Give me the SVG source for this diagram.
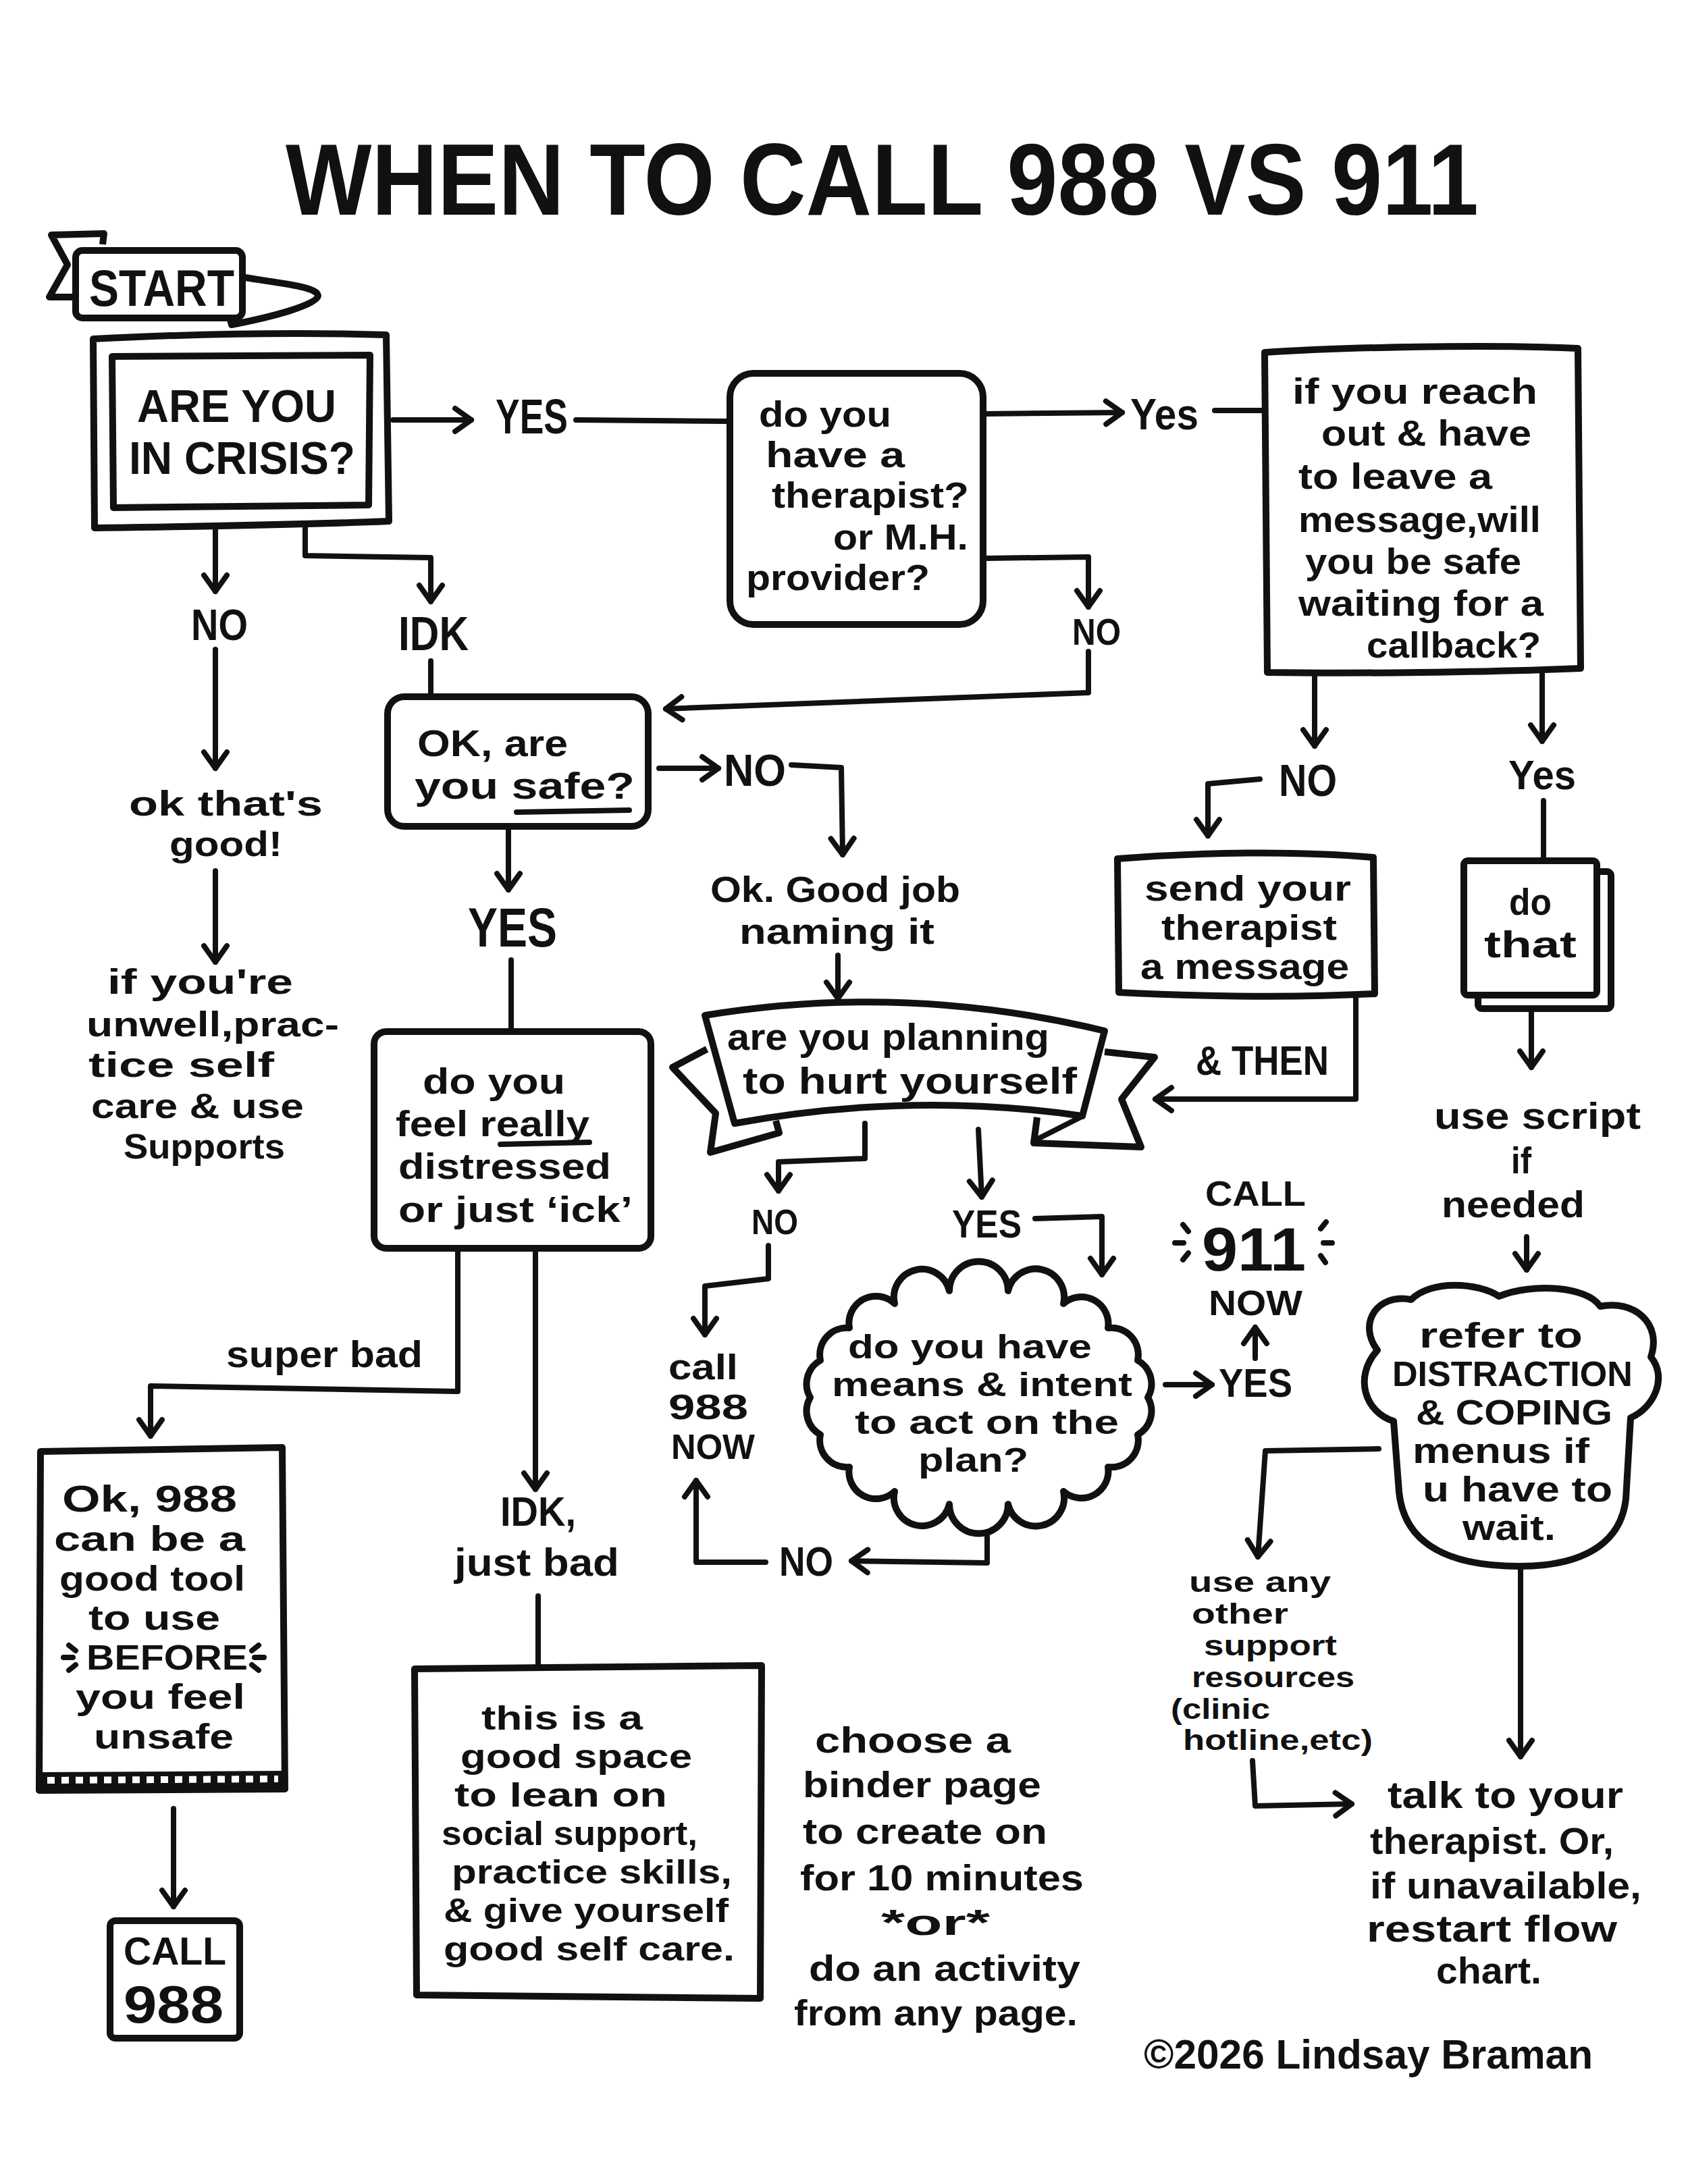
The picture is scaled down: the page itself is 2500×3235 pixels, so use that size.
<svg xmlns="http://www.w3.org/2000/svg" width="2500" height="3235" viewBox="0 0 2500 3235">
<style>
.t{font-family:"Liberation Sans",Arial,sans-serif;font-weight:bold;fill:#111}
.box{fill:#fff;stroke:#111;stroke-width:10;stroke-linejoin:round}
.ln{fill:none;stroke:#111;stroke-width:8;stroke-linecap:round;stroke-linejoin:round}
.a{marker-end:url(#ah)}
</style>
<defs>
<marker id="ah" markerUnits="userSpaceOnUse" markerWidth="44" markerHeight="44" viewBox="0 0 44 44" refX="38" refY="22" orient="auto" overflow="visible">
<path d="M14,5 L38,22 L14,39" fill="none" stroke="#111" stroke-width="8" stroke-linecap="round" stroke-linejoin="round"/>
</marker>
</defs>
<rect width="2500" height="3235" fill="#fff"/>

<text class="t" x="423" y="318" font-size="150" textLength="1767" lengthAdjust="spacingAndGlyphs">WHEN TO CALL 988 VS 911</text>

<g id="connectors">
<path class="ln a" d="M582,622 L698,622"/>
<path class="ln" d="M853,622 L1077,624"/>
<path class="ln a" d="M1459,613 L1662,611"/>
<path class="ln" d="M1799,608 L1871,608"/>
<path class="ln a" d="M1459,827 L1612,825 L1612,899"/>
<path class="ln a" d="M1612,965 L1612,1026 L986,1050"/>
<path class="ln a" d="M319,777 L319,876"/>
<path class="ln a" d="M319,962 L319,1138"/>
<path class="ln a" d="M319,1290 L319,1425"/>
<path class="ln a" d="M452,780 L452,823 L638,826 L638,891"/>
<path class="ln" d="M638,979 L638,1038"/>
<path class="ln a" d="M976,1138 L1064,1138"/>
<path class="ln a" d="M1172,1133 L1246,1137 L1248,1266"/>
<path class="ln a" d="M1241,1415 L1241,1479"/>
<path class="ln a" d="M753,1227 L753,1318"/>
<path class="ln" d="M757,1422 L757,1528"/>
<path class="ln a" d="M678,1852 L678,2061 L223,2053 L223,2127"/>
<path class="ln a" d="M793,1852 L793,2206"/>
<path class="ln" d="M797,2364 L797,2467"/>
<path class="ln a" d="M257,2679 L257,2824"/>
<path class="ln a" d="M1947,998 L1947,1105"/>
<path class="ln a" d="M1866,1154 L1789,1161 L1789,1238"/>
<path class="ln a" d="M2008,1476 L2008,1628 L1711,1628"/>
<path class="ln a" d="M2284,998 L2284,1098"/>
<path class="ln" d="M2286,1186 L2286,1275"/>
<path class="ln a" d="M2268,1474 L2268,1581"/>
<path class="ln a" d="M2261,1832 L2261,1881"/>
<path class="ln a" d="M2042,2146 L1874,2149 L1863,2306"/>
<path class="ln a" d="M1855,2608 L1859,2675 L2002,2672"/>
<path class="ln a" d="M2252,2321 L2252,2602"/>
<path class="ln a" d="M1281,1664 L1281,1716 L1153,1721 L1153,1764"/>
<path class="ln a" d="M1138,1845 L1138,1894 L1044,1905 L1044,1977"/>
<path class="ln a" d="M1449,1673 L1454,1773"/>
<path class="ln a" d="M1533,1805 L1632,1802 L1632,1888"/>
<path class="ln a" d="M1726,2051 L1795,2051"/>
<path class="ln a" d="M1859,2012 L1859,1966"/>
<path class="ln a" d="M1462,2261 L1462,2315 L1261,2312"/>
<path class="ln a" d="M1134,2314 L1031,2314 L1031,2193"/>
</g>

<g id="start">
<path class="box" d="M152,362 L154,346 L76,348 L100,392 L73,440 L112,440"/>
<path class="box" d="M355,410 C420,420 470,425 471,438 C470,452 400,470 343,481 L338,462"/>
<rect class="box" x="112" y="371" width="247" height="100" rx="10"/>
<text class="t" x="132" y="453" font-size="76" textLength="215" lengthAdjust="spacingAndGlyphs">START</text>
</g>

<g id="crisis">
<path class="box" d="M138,502 C300,494 450,492 572,496 L576,772 C430,778 280,780 140,782 Z"/>
<path class="box" d="M166,528 L548,526 L546,748 L168,752 Z"/>
<text class="t" x="203" y="625" font-size="68" textLength="295" lengthAdjust="spacingAndGlyphs">ARE YOU</text>
<text class="t" x="191" y="702" font-size="68" textLength="335" lengthAdjust="spacingAndGlyphs">IN CRISIS?</text>
</g>

<g id="lbl-crisis-yes"><text class="t" x="734" y="642" font-size="72" textLength="107" lengthAdjust="spacingAndGlyphs">YES</text></g>
<g id="lbl-crisis-no"><text class="t" x="283" y="948" font-size="64" textLength="84" lengthAdjust="spacingAndGlyphs">NO</text></g>
<g id="lbl-crisis-idk"><text class="t" x="590" y="963" font-size="70" textLength="104" lengthAdjust="spacingAndGlyphs">IDK</text></g>

<g id="therapist">
<rect class="box" x="1081" y="553" width="375" height="372" rx="35"/>
<text class="t" x="1124" y="632" font-size="53" textLength="196" lengthAdjust="spacingAndGlyphs">do you</text>
<text class="t" x="1134" y="692" font-size="53" textLength="206" lengthAdjust="spacingAndGlyphs">have a</text>
<text class="t" x="1143" y="752" font-size="53" textLength="292" lengthAdjust="spacingAndGlyphs">therapist?</text>
<text class="t" x="1234" y="814" font-size="53" textLength="200" lengthAdjust="spacingAndGlyphs">or M.H.</text>
<text class="t" x="1105" y="874" font-size="53" textLength="272" lengthAdjust="spacingAndGlyphs">provider?</text>
</g>

<g id="lbl-ther-yes"><text class="t" x="1674" y="636" font-size="64" textLength="101" lengthAdjust="spacingAndGlyphs">Yes</text></g>
<g id="lbl-ther-no"><text class="t" x="1588" y="955" font-size="56" textLength="72" lengthAdjust="spacingAndGlyphs">NO</text></g>

<g id="callback">
<path class="box" d="M1873,522 C2000,514 2200,510 2337,516 L2341,990 C2200,996 2000,998 1877,996 Z"/>
<text class="t" x="1914" y="598" font-size="53" textLength="363" lengthAdjust="spacingAndGlyphs">if you reach</text>
<text class="t" x="1957" y="660" font-size="53" textLength="311" lengthAdjust="spacingAndGlyphs">out &amp; have</text>
<text class="t" x="1923" y="724" font-size="53" textLength="287" lengthAdjust="spacingAndGlyphs">to leave a</text>
<text class="t" x="1923" y="788" font-size="53" textLength="359" lengthAdjust="spacingAndGlyphs">message,will</text>
<text class="t" x="1933" y="850" font-size="53" textLength="320" lengthAdjust="spacingAndGlyphs">you be safe</text>
<text class="t" x="1923" y="912" font-size="53" textLength="363" lengthAdjust="spacingAndGlyphs">waiting for a</text>
<text class="t" x="2024" y="974" font-size="53" textLength="258" lengthAdjust="spacingAndGlyphs">callback?</text>
</g>

<g id="oknogood">
<text class="t" x="191" y="1208" font-size="52" textLength="287" lengthAdjust="spacingAndGlyphs">ok that's</text>
<text class="t" x="251" y="1268" font-size="52" textLength="167" lengthAdjust="spacingAndGlyphs">good!</text>
</g>

<g id="unwell">
<text class="t" x="159" y="1472" font-size="52" textLength="275" lengthAdjust="spacingAndGlyphs">if you're</text>
<text class="t" x="128" y="1535" font-size="52" textLength="374" lengthAdjust="spacingAndGlyphs">unwell,prac-</text>
<text class="t" x="131" y="1595" font-size="52" textLength="275" lengthAdjust="spacingAndGlyphs">tice self</text>
<text class="t" x="135" y="1656" font-size="52" textLength="315" lengthAdjust="spacingAndGlyphs">care &amp; use</text>
<text class="t" x="183" y="1716" font-size="52" textLength="239" lengthAdjust="spacingAndGlyphs">Supports</text>
</g>

<g id="safe">
<rect class="box" x="574" y="1032" width="386" height="192" rx="25"/>
<text class="t" x="618" y="1120" font-size="56" textLength="223" lengthAdjust="spacingAndGlyphs">OK, are</text>
<text class="t" x="614" y="1183" font-size="56" textLength="326" lengthAdjust="spacingAndGlyphs">you safe?</text>
<path class="ln" d="M765,1203 L932,1200"/>
</g>

<g id="lbl-safe-no"><text class="t" x="1072" y="1164" font-size="66" textLength="92" lengthAdjust="spacingAndGlyphs">NO</text></g>
<g id="lbl-safe-yes"><text class="t" x="693" y="1402" font-size="82" textLength="132" lengthAdjust="spacingAndGlyphs">YES</text></g>

<g id="goodjob">
<text class="t" x="1052" y="1336" font-size="54" textLength="370" lengthAdjust="spacingAndGlyphs">Ok. Good job</text>
<text class="t" x="1095" y="1398" font-size="54" textLength="289" lengthAdjust="spacingAndGlyphs">naming it</text>
</g>

<g id="planning">
<path class="box" d="M1047,1554 L996,1581 L1060,1649 L1052,1707 L1154,1678 L1149,1660"/>
<path class="box" d="M1636,1558 L1710,1566 L1661,1628 L1690,1699 L1531,1693 L1536,1655"/>
<path class="box" d="M1044,1504 Q1340,1455 1636,1527 L1603,1653 Q1350,1616 1088,1664 Z"/>
<path class="ln" d="M1531,1690 L1600,1655"/>
<text class="t" x="1077" y="1555" font-size="55" textLength="477" lengthAdjust="spacingAndGlyphs">are you planning</text>
<text class="t" x="1100" y="1620" font-size="55" textLength="495" lengthAdjust="spacingAndGlyphs">to hurt yourself</text>
</g>

<g id="feel">
<rect class="box" x="554" y="1528" width="410" height="321" rx="18"/>
<text class="t" x="626" y="1620" font-size="54" textLength="211" lengthAdjust="spacingAndGlyphs">do you</text>
<text class="t" x="586" y="1683" font-size="54" textLength="287" lengthAdjust="spacingAndGlyphs">feel really</text>
<text class="t" x="590" y="1746" font-size="54" textLength="315" lengthAdjust="spacingAndGlyphs">distressed</text>
<text class="t" x="590" y="1810" font-size="54" textLength="347" lengthAdjust="spacingAndGlyphs">or just ‘ick’</text>
<path class="ln" d="M741,1695 L873,1692"/>
</g>

<g id="lbl-superbad"><text class="t" x="335" y="2025" font-size="56" textLength="291" lengthAdjust="spacingAndGlyphs">super bad</text></g>
<g id="lbl-justbad">
<text class="t" x="741" y="2260" font-size="62" textLength="112" lengthAdjust="spacingAndGlyphs">IDK,</text>
<text class="t" x="673" y="2334" font-size="58" textLength="244" lengthAdjust="spacingAndGlyphs">just bad</text>
</g>

<g id="ok988">
<path class="box" d="M60,2150 L418,2144 L422,2650 L58,2652 Z"/>
<path d="M62,2637 L420,2635" stroke="#111" stroke-width="24" fill="none"/>
<path d="M70,2637 L412,2635" stroke="#fff" stroke-width="10" stroke-dasharray="11 10" fill="none"/>
<text class="t" x="92" y="2239" font-size="56" textLength="259" lengthAdjust="spacingAndGlyphs">Ok, 988</text>
<text class="t" x="80" y="2297" font-size="52" textLength="283" lengthAdjust="spacingAndGlyphs">can be a</text>
<text class="t" x="88" y="2356" font-size="52" textLength="275" lengthAdjust="spacingAndGlyphs">good tool</text>
<text class="t" x="131" y="2414" font-size="52" textLength="195" lengthAdjust="spacingAndGlyphs">to use</text>
<text class="t" x="128" y="2473" font-size="52" textLength="239" lengthAdjust="spacingAndGlyphs">BEFORE</text>
<path class="ln" stroke-width="6" d="M102,2437 L112,2445 M94,2455 L108,2455 M102,2474 L112,2466 M383,2437 L373,2445 M391,2455 L377,2455 M383,2474 L373,2466"/>
<text class="t" x="112" y="2531" font-size="52" textLength="251" lengthAdjust="spacingAndGlyphs">you feel</text>
<text class="t" x="139" y="2590" font-size="52" textLength="207" lengthAdjust="spacingAndGlyphs">unsafe</text>
</g>

<g id="call988">
<rect class="box" x="163" y="2845" width="192" height="174" rx="8"/>
<text class="t" x="183" y="2910" font-size="58" textLength="152" lengthAdjust="spacingAndGlyphs">CALL</text>
<text class="t" x="183" y="2996" font-size="78" textLength="148" lengthAdjust="spacingAndGlyphs">988</text>
</g>

<g id="goodspace">
<path class="box" d="M614,2472 L1128,2467 L1126,2960 L617,2955 Z"/>
<text class="t" x="713" y="2562" font-size="50" textLength="239" lengthAdjust="spacingAndGlyphs">this is a</text>
<text class="t" x="682" y="2619" font-size="50" textLength="343" lengthAdjust="spacingAndGlyphs">good space</text>
<text class="t" x="673" y="2676" font-size="50" textLength="315" lengthAdjust="spacingAndGlyphs">to lean on</text>
<text class="t" x="654" y="2733" font-size="50" textLength="379" lengthAdjust="spacingAndGlyphs">social support,</text>
<text class="t" x="669" y="2790" font-size="50" textLength="415" lengthAdjust="spacingAndGlyphs">practice skills,</text>
<text class="t" x="657" y="2847" font-size="50" textLength="422" lengthAdjust="spacingAndGlyphs">&amp; give yourself</text>
<text class="t" x="657" y="2904" font-size="50" textLength="431" lengthAdjust="spacingAndGlyphs">good self care.</text>
</g>

<g id="binder">
<text class="t" x="1207" y="2596" font-size="54" textLength="290" lengthAdjust="spacingAndGlyphs">choose a</text>
<text class="t" x="1189" y="2662" font-size="54" textLength="353" lengthAdjust="spacingAndGlyphs">binder page</text>
<text class="t" x="1189" y="2731" font-size="54" textLength="362" lengthAdjust="spacingAndGlyphs">to create on</text>
<text class="t" x="1185" y="2800" font-size="54" textLength="420" lengthAdjust="spacingAndGlyphs">for 10 minutes</text>
<text class="t" x="1305" y="2866" font-size="54" textLength="161" lengthAdjust="spacingAndGlyphs">*or*</text>
<text class="t" x="1198" y="2934" font-size="54" textLength="402" lengthAdjust="spacingAndGlyphs">do an activity</text>
<text class="t" x="1176" y="3000" font-size="54" textLength="420" lengthAdjust="spacingAndGlyphs">from any page.</text>
</g>

<g id="send">
<path class="box" d="M1655,1272 C1780,1262 1920,1260 2034,1270 L2036,1472 C1920,1478 1780,1476 1657,1470 Z"/>
<text class="t" x="1695" y="1334" font-size="51" textLength="306" lengthAdjust="spacingAndGlyphs">send your</text>
<text class="t" x="1720" y="1392" font-size="51" textLength="260" lengthAdjust="spacingAndGlyphs">therapist</text>
<text class="t" x="1689" y="1450" font-size="51" textLength="309" lengthAdjust="spacingAndGlyphs">a message</text>
</g>
<g id="lbl-then"><text class="t" x="1771" y="1592" font-size="62" textLength="197" lengthAdjust="spacingAndGlyphs">&amp; THEN</text></g>

<g id="lbl-cb-no"><text class="t" x="1894" y="1179" font-size="66" textLength="86" lengthAdjust="spacingAndGlyphs">NO</text></g>
<g id="lbl-cb-yes"><text class="t" x="2234" y="1169" font-size="62" textLength="100" lengthAdjust="spacingAndGlyphs">Yes</text></g>

<g id="dothat">
<rect class="box" x="2189" y="1291" width="197" height="203" rx="6"/>
<rect class="box" x="2168" y="1275" width="197" height="199" rx="6"/>
<text class="t" x="2235" y="1355" font-size="56" textLength="63" lengthAdjust="spacingAndGlyphs">do</text>
<text class="t" x="2198" y="1418" font-size="56" textLength="137" lengthAdjust="spacingAndGlyphs">that</text>
</g>

<g id="script">
<text class="t" x="2124" y="1672" font-size="56" textLength="306" lengthAdjust="spacingAndGlyphs">use script</text>
<text class="t" x="2238" y="1738" font-size="56" textLength="30" lengthAdjust="spacingAndGlyphs">if</text>
<text class="t" x="2135" y="1803" font-size="56" textLength="212" lengthAdjust="spacingAndGlyphs">needed</text>
</g>

<g id="refer">
<path class="box" d="M2040,2000 C2010,1960 2040,1915 2090,1925 C2120,1895 2190,1900 2220,1920 C2270,1900 2350,1905 2370,1935 C2420,1925 2462,1960 2445,2010 C2470,2040 2450,2085 2415,2100 L2408,2220 C2400,2295 2330,2320 2250,2320 C2150,2320 2080,2290 2072,2210 L2064,2105 C2022,2092 2004,2040 2040,2000 Z"/>
<text class="t" x="2102" y="1996" font-size="51" textLength="242" lengthAdjust="spacingAndGlyphs">refer to</text>
<text class="t" x="2062" y="2053" font-size="51" textLength="356" lengthAdjust="spacingAndGlyphs">DISTRACTION</text>
<text class="t" x="2097" y="2110" font-size="51" textLength="291" lengthAdjust="spacingAndGlyphs">&amp; COPING</text>
<text class="t" x="2092" y="2167" font-size="51" textLength="262" lengthAdjust="spacingAndGlyphs">menus if</text>
<text class="t" x="2107" y="2224" font-size="51" textLength="281" lengthAdjust="spacingAndGlyphs">u have to</text>
<text class="t" x="2166" y="2281" font-size="51" textLength="138" lengthAdjust="spacingAndGlyphs">wait.</text>
</g>

<g id="otherres">
<text class="t" x="1761" y="2358" font-size="42" textLength="210" lengthAdjust="spacingAndGlyphs">use any</text>
<text class="t" x="1765" y="2405" font-size="42" textLength="143" lengthAdjust="spacingAndGlyphs">other</text>
<text class="t" x="1783" y="2452" font-size="42" textLength="197" lengthAdjust="spacingAndGlyphs">support</text>
<text class="t" x="1765" y="2499" font-size="42" textLength="241" lengthAdjust="spacingAndGlyphs">resources</text>
<text class="t" x="1734" y="2546" font-size="42" textLength="147" lengthAdjust="spacingAndGlyphs">(clinic</text>
<text class="t" x="1752" y="2592" font-size="42" textLength="281" lengthAdjust="spacingAndGlyphs">hotline,etc)</text>
</g>

<g id="talk">
<text class="t" x="2055" y="2678" font-size="55" textLength="349" lengthAdjust="spacingAndGlyphs">talk to your</text>
<text class="t" x="2029" y="2746" font-size="55" textLength="361" lengthAdjust="spacingAndGlyphs">therapist. Or,</text>
<text class="t" x="2029" y="2812" font-size="55" textLength="402" lengthAdjust="spacingAndGlyphs">if unavailable,</text>
<text class="t" x="2024" y="2876" font-size="55" textLength="371" lengthAdjust="spacingAndGlyphs">restart flow</text>
<text class="t" x="2127" y="2938" font-size="55" textLength="156" lengthAdjust="spacingAndGlyphs">chart.</text>
</g>

<g id="lbl-ban-no"><text class="t" x="1113" y="1828" font-size="52" textLength="69" lengthAdjust="spacingAndGlyphs">NO</text></g>
<g id="lbl-ban-yes"><text class="t" x="1410" y="1833" font-size="58" textLength="103" lengthAdjust="spacingAndGlyphs">YES</text></g>

<g id="call988now">
<text class="t" x="990" y="2043" font-size="51" textLength="103" lengthAdjust="spacingAndGlyphs">call</text>
<text class="t" x="990" y="2102" font-size="51" textLength="118" lengthAdjust="spacingAndGlyphs">988</text>
<text class="t" x="994" y="2161" font-size="51" textLength="124" lengthAdjust="spacingAndGlyphs">NOW</text>
</g>

<g id="means">
<path class="box" d="M1700,2070 A40,40 0 0 1 1685,2125 A40,40 0 0 1 1641,2173 A40,40 0 0 1 1575,2209 A40,40 0 0 1 1493,2228 A40,40 0 0 1 1406,2228 A40,40 0 0 1 1325,2209 A40,40 0 0 1 1258,2173 A40,40 0 0 1 1215,2125 A40,40 0 0 1 1200,2070 A40,40 0 0 1 1215,2015 A40,40 0 0 1 1258,1967 A40,40 0 0 1 1325,1931 A40,40 0 0 1 1406,1912 A40,40 0 0 1 1493,1912 A40,40 0 0 1 1575,1931 A40,40 0 0 1 1641,1967 A40,40 0 0 1 1685,2015 A40,40 0 0 1 1700,2070 Z"/>
<text class="t" x="1256" y="2012" font-size="50" textLength="361" lengthAdjust="spacingAndGlyphs">do you have</text>
<text class="t" x="1232" y="2068" font-size="50" textLength="445" lengthAdjust="spacingAndGlyphs">means &amp; intent</text>
<text class="t" x="1266" y="2124" font-size="50" textLength="391" lengthAdjust="spacingAndGlyphs">to act on the</text>
<text class="t" x="1360" y="2180" font-size="50" textLength="163" lengthAdjust="spacingAndGlyphs">plan?</text>
</g>

<g id="lbl-means-yes"><text class="t" x="1805" y="2069" font-size="60" textLength="109" lengthAdjust="spacingAndGlyphs">YES</text></g>
<g id="lbl-means-no"><text class="t" x="1154" y="2334" font-size="62" textLength="80" lengthAdjust="spacingAndGlyphs">NO</text></g>

<g id="call911">
<text class="t" x="1785" y="1786" font-size="52" textLength="149" lengthAdjust="spacingAndGlyphs">CALL</text>
<text class="t" x="1780" y="1882" font-size="90" textLength="154" lengthAdjust="spacingAndGlyphs">911</text>
<text class="t" x="1790" y="1948" font-size="52" textLength="139" lengthAdjust="spacingAndGlyphs">NOW</text>
<path class="ln" stroke-width="6" d="M1752,1814 L1760,1824 M1740,1841 L1753,1841 M1752,1866 L1760,1856 M1964,1810 L1956,1820 M1960,1841 L1973,1841 M1956,1860 L1963,1870"/>
</g>

<g id="credit"><text class="t" x="1694" y="3064" font-size="62" font-weight="normal" textLength="665" lengthAdjust="spacingAndGlyphs">©2026 Lindsay Braman</text></g>
</svg>
